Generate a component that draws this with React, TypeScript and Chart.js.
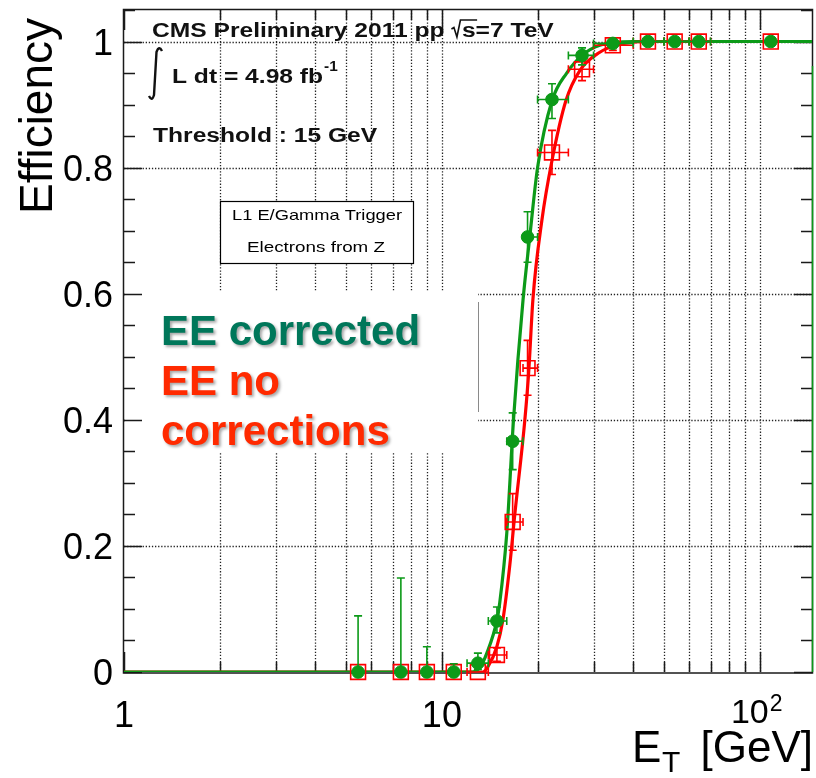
import React, { useEffect, useRef } from "react";
import { Chart, registerables } from "chart.js";
Chart.register(...registerables);

// ---------------- data ----------------
const binCenters = [5.45, 7.43, 8.97, 10.9, 12.98, 14.9, 16.7, 18.6, 22.2, 27.6, 34.5, 44.5, 54.0, 64.3, 108.3];
const binLow = [5.45, 7.43, 8.97, 10.9, 12, 14, 16, 18, 20, 25, 30, 40, 50, 60, 108.3];
const binHigh = [5.45, 7.43, 8.97, 10.9, 14, 16, 18, 20, 25, 30, 40, 50, 60, 70, 108.3];

const effCorrected = [0, 0, 0, 0, 0.014, 0.081, 0.366, 0.69, 0.908, 0.978, 0.997, 1, 1, 1, 1];
const errUpCorrected = [0.089, 0.149, 0.04, 0.013, 0.016, 0.022, 0.045, 0.04, 0.025, 0.012, 0.003, 0, 0, 0, 0];
const errDnCorrected = [0, 0, 0, 0, 0.01, 0.019, 0.045, 0.04, 0.03, 0.015, 0.005, 0, 0, 0, 0];

const effUncorrected = [0, 0, 0, 0, 0, 0.027, 0.238, 0.482, 0.824, 0.956, 0.994, 1, 1, 1, 1];
const errUpUncorrected = [0, 0, 0, 0, 0, 0.011, 0.045, 0.044, 0.035, 0.015, 0.005, 0, 0, 0, 0];
const errDnUncorrected = [0, 0, 0, 0, 0, 0.01, 0.045, 0.043, 0.035, 0.018, 0.008, 0, 0, 0, 0];

// fitted turn-on curves
const fitCorrectedX = [1, 12.5, 13.2, 13.85, 14.9, 15.2, 16.0, 16.8, 18.0, 18.9, 20.0, 22.2, 24.7, 27.6, 31.4, 39.9, 146];
const fitCorrectedY = [0, 0, 0.008, 0.03, 0.082, 0.109, 0.22, 0.4, 0.59, 0.69, 0.8, 0.906, 0.95, 0.978, 0.994, 1, 1];
const fitUncorrectedX = [1, 13.46, 13.95, 14.89, 15.55, 16.36, 16.96, 18.24, 18.78, 19.33, 20.63, 22.18, 24.55, 27.16, 31.4, 35.5, 44.1, 146];
const fitUncorrectedY = [0, 0, 0.008, 0.04, 0.082, 0.17, 0.25, 0.4, 0.48, 0.59, 0.716, 0.81, 0.906, 0.954, 0.983, 0.994, 1, 1];

const xMin = 1;
const xMax = 146;
const yMin = 0;
const yMax = 1.05;
const yTickValues = [0, 0.2, 0.4, 0.6, 0.8, 1];
const yTickLabels = ["0", "0.2", "0.4", "0.6", "0.8", "1"];
const xMajorTicks = [1, 10, 100];

const GREEN = "#0c9a18";
const RED = "#ff0000";
const FONT = "'Liberation Sans', Arial, Helvetica, sans-serif";

function stretchText(ctx: CanvasRenderingContext2D, text: string, x: number, y: number, font: string, sx: number, align: CanvasTextAlign = "left") {
  ctx.save();
  ctx.font = font;
  const w = ctx.measureText(text).width * sx;
  ctx.translate(x, y);
  ctx.scale(sx, 1);
  ctx.textAlign = align;
  ctx.textBaseline = "alphabetic";
  ctx.fillText(text, 0, 0);
  ctx.restore();
  return w;
}

function fitText(ctx: CanvasRenderingContext2D, text: string, cx: number, y: number, font: string, width: number) {
  ctx.save();
  ctx.font = font;
  const w = ctx.measureText(text).width;
  const sx = width / w;
  ctx.translate(cx, y);
  ctx.scale(sx, 1);
  ctx.textAlign = "center";
  ctx.textBaseline = "alphabetic";
  ctx.fillText(text, 0, 0);
  ctx.restore();
}

const rootPlugin = {
  id: "rootStyle",
  beforeDraw(chart: any) {
    const { ctx, chartArea: a, scales } = chart;
    const xs = scales.x;
    const ys = scales.y;
    ctx.save();
    ctx.fillStyle = "#fff";
    ctx.fillRect(0, 0, chart.width, chart.height);

    // dotted grid
    ctx.strokeStyle = "#222";
    ctx.lineWidth = 1.3;
    ctx.setLineDash([1.3, 1.8]);
    for (const d of [1, 10, 100]) {
      for (let m = 1; m <= 9; m++) {
        const v = m * d;
        if (v <= xMin || v >= xMax) continue;
        const px = Math.round(xs.getPixelForValue(v)) + 0.5;
        ctx.beginPath();
        ctx.moveTo(px, a.top);
        ctx.lineTo(px, a.bottom);
        ctx.stroke();
      }
    }
    for (const v of yTickValues) {
      if (v === 0) continue;
      const py = Math.round(ys.getPixelForValue(v)) + 0.5;
      ctx.beginPath();
      ctx.moveTo(a.left, py);
      ctx.lineTo(a.right, py);
      ctx.stroke();
    }
    ctx.setLineDash([]);

    // white overlay box for the annotation text
    ctx.fillStyle = "#fff";
    ctx.fillRect(a.left + 1, 291, 478 - a.left - 1, 161);
    ctx.strokeStyle = "#8a8a8a";
    ctx.lineWidth = 1;
    ctx.beginPath();
    ctx.moveTo(478.5, 302);
    ctx.lineTo(478.5, 412);
    ctx.stroke();

    // trigger box
    ctx.fillStyle = "#fff";
    ctx.fillRect(220, 201, 193, 62);
    ctx.strokeStyle = "#000";
    ctx.lineWidth = 1.2;
    ctx.strokeRect(220.5, 201.5, 193, 62);
    ctx.fillStyle = "#000";
    fitText(ctx, "L1 E/Gamma Trigger", 317, 220, `15px ${FONT}`, 170);
    fitText(ctx, "Electrons from Z", 316, 252, `15px ${FONT}`, 138);
    ctx.restore();
  },
  beforeDatasetsDraw(chart: any) {
    const { ctx, chartArea: a, scales } = chart;
    const xs = scales.x;
    const ys = scales.y;
    ctx.save();
    ctx.strokeStyle = "#1a1a1a";
    ctx.lineWidth = 1.5;
    ctx.strokeRect(a.left - 0.5, a.top - 0.5, a.right - a.left + 1, a.bottom - a.top + 1.5);
    // x ticks (bottom & top)
    for (const d of [1, 10, 100]) {
      for (let m = 1; m <= 9; m++) {
        const v = m * d;
        if (v < xMin || v > xMax) continue;
        const major = m === 1;
        const len = major ? 20 : 10;
        const px = Math.round(xs.getPixelForValue(v)) + 0.5;
        ctx.beginPath();
        ctx.moveTo(px, a.bottom);
        ctx.lineTo(px, a.bottom - len);
        ctx.moveTo(px, a.top);
        ctx.lineTo(px, a.top + len);
        ctx.stroke();
      }
    }
    // y ticks (left & right)
    for (let k = 0; k <= 21; k++) {
      const v = k * 0.05;
      if (v > yMax) continue;
      const major = k % 4 === 0;
      const len = major ? 18 : 11;
      const py = Math.round(ys.getPixelForValue(v)) + 0.5;
      ctx.beginPath();
      ctx.moveTo(a.left, py);
      ctx.lineTo(a.left + len, py);
      ctx.moveTo(a.right, py);
      ctx.lineTo(a.right - len, py);
      ctx.stroke();
    }
    ctx.restore();
  },
  beforeDatasetDraw(chart: any, args: any) {
    const ds = chart.data.datasets[args.index];
    const e = ds.errs;
    if (!e) return;
    const { ctx, scales } = chart;
    const xs = scales.x;
    const ys = scales.y;
    ctx.save();
    ctx.strokeStyle = ds.borderColor;
    ctx.lineWidth = 1.6;
    const cap = 4;
    for (let i = 0; i < e.x.length; i++) {
      const px = xs.getPixelForValue(e.x[i]);
      const py = ys.getPixelForValue(e.y[i]);
      ctx.beginPath();
      if (e.up[i] > 0) {
        const t = ys.getPixelForValue(e.y[i] + e.up[i]);
        ctx.moveTo(px, py);
        ctx.lineTo(px, t);
        ctx.moveTo(px - cap, t);
        ctx.lineTo(px + cap, t);
      }
      if (e.dn[i] > 0) {
        const b = ys.getPixelForValue(e.y[i] - e.dn[i]);
        ctx.moveTo(px, py);
        ctx.lineTo(px, b);
        ctx.moveTo(px - cap, b);
        ctx.lineTo(px + cap, b);
      }
      if (e.lo[i] < e.x[i]) {
        const l = xs.getPixelForValue(e.lo[i]);
        ctx.moveTo(px, py);
        ctx.lineTo(l, py);
        ctx.moveTo(l, py - cap);
        ctx.lineTo(l, py + cap);
      }
      if (e.hi[i] > e.x[i]) {
        const r = xs.getPixelForValue(e.hi[i]);
        ctx.moveTo(px, py);
        ctx.lineTo(r, py);
        ctx.moveTo(r, py - cap);
        ctx.lineTo(r, py + cap);
      }
      ctx.stroke();
    }
    ctx.restore();
  },
  afterDatasetsDraw(chart: any) {
    const { ctx, chartArea: a, scales } = chart;
    const xs = scales.x;
    const ys = scales.y;
    ctx.save();
    ctx.fillStyle = "#000";

    // right edge green line (as in the source image)
    ctx.strokeStyle = GREEN;
    ctx.lineWidth = 1.5;
    ctx.beginPath();
    ctx.moveTo(a.right + 0.5, 66);
    ctx.lineTo(a.right + 0.5, a.bottom);
    ctx.stroke();

    // y tick labels
    ctx.font = `36px ${FONT}`;
    ctx.textAlign = "right";
    ctx.textBaseline = "alphabetic";
    yTickValues.forEach((v, i) => {
      const py = ys.getPixelForValue(v);
      ctx.fillText(yTickLabels[i], 113, py + 13);
    });
    // x tick labels
    ctx.textAlign = "center";
    ctx.fillText("1", xs.getPixelForValue(xMajorTicks[0]), 727);
    ctx.fillText("10", xs.getPixelForValue(xMajorTicks[1]), 727);
    const p100 = xs.getPixelForValue(xMajorTicks[2]);
    ctx.font = `34px ${FONT}`;
    ctx.textAlign = "right";
    ctx.fillText("10", p100 + 9, 723);
    ctx.font = `23px ${FONT}`;
    ctx.textAlign = "left";
    ctx.fillText("2", p100 + 10, 711);

    // axis titles
    ctx.font = `46px ${FONT}`;
    ctx.save();
    ctx.translate(52, 214);
    ctx.rotate(-Math.PI / 2);
    ctx.textAlign = "left";
    ctx.fillText("Efficiency", 0, 0);
    ctx.restore();

    ctx.font = `44px ${FONT}`;
    ctx.textAlign = "left";
    ctx.fillText("E", 632, 762);
    ctx.font = `30px ${FONT}`;
    ctx.fillText("T", 662, 772);
    ctx.font = `44px ${FONT}`;
    ctx.textAlign = "right";
    ctx.fillText("[GeV]", 813, 762);

    // header texts (ROOT style, wide Helvetica bold)
    const bf = `bold 20px ${FONT}`;
    const sx = 1.23;
    ctx.fillStyle = "#111";
    let w = stretchText(ctx, "CMS Preliminary 2011 pp ", 152, 37, bf, sx);
    let x = 152 + w;
    ctx.save();
    ctx.font = bf;
    const sw = ctx.measureText("s").width * sx;
    ctx.restore();
    ctx.strokeStyle = "#111";
    ctx.lineWidth = 1.6;
    ctx.beginPath();
    ctx.moveTo(x, 29);
    ctx.lineTo(x + 2.5, 27.5);
    ctx.lineTo(x + 5.5, 37);
    ctx.lineTo(x + 9, 20);
    ctx.lineTo(x + 10 + sw + 2, 20);
    ctx.stroke();
    stretchText(ctx, "s=7 TeV", x + 10.5, 37, bf, sx);

    // integral sign
    ctx.lineWidth = 2.4;
    ctx.beginPath();
    ctx.moveTo(162, 51);
    ctx.quadraticCurveTo(159, 45, 156.5, 52);
    ctx.lineTo(154, 95);
    ctx.quadraticCurveTo(152, 102, 149, 96);
    ctx.stroke();
    w = stretchText(ctx, "L dt = 4.98 fb", 172, 83, bf, sx);
    stretchText(ctx, "-1", 172 + w + 1, 71, `bold 14px ${FONT}`, 1.1);

    stretchText(ctx, "Threshold : 15 GeV", 153, 142, bf, sx);

    // big coloured annotation
    ctx.shadowColor = "rgba(0,0,0,0.35)";
    ctx.shadowOffsetX = 2;
    ctx.shadowOffsetY = 2;
    ctx.shadowBlur = 3;
    ctx.font = `bold 42px ${FONT}`;
    ctx.textAlign = "left";
    ctx.fillStyle = "#00775a";
    ctx.fillText("EE corrected", 161, 345);
    ctx.fillStyle = "#ff2a00";
    ctx.fillText("EE no", 161, 395);
    ctx.fillText("corrections", 161, 445);
    ctx.restore();
  },
};

export default function App() {
  const ref = useRef<HTMLCanvasElement>(null);
  useEffect(() => {
    document.body.style.margin = "0";
    const canvas = ref.current!;
    const chart = new Chart(canvas, {
      type: "scatter",
      data: {
        datasets: [
          {
            label: "EE corrected",
            data: binCenters.map((x, i) => ({ x, y: effCorrected[i] })),
            pointStyle: "circle",
            pointRadius: 6.3,
            backgroundColor: GREEN,
            borderColor: GREEN,
            borderWidth: 1,
            showLine: false,
            clip: false,
            order: 0,
            errs: { x: binCenters, y: effCorrected, up: errUpCorrected, dn: errDnCorrected, lo: binLow, hi: binHigh },
          } as any,
          {
            label: "EE no corrections",
            data: binCenters.map((x, i) => ({ x, y: effUncorrected[i] })),
            pointStyle: "rect",
            pointRadius: 10.5,
            backgroundColor: "rgba(0,0,0,0)",
            borderColor: RED,
            borderWidth: 1.6,
            showLine: false,
            clip: false,
            order: 1,
            errs: { x: binCenters, y: effUncorrected, up: errUpUncorrected, dn: errDnUncorrected, lo: binLow, hi: binHigh },
          } as any,
          {
            label: "fit corrected",
            data: fitCorrectedX.map((x, i) => ({ x, y: fitCorrectedY[i] })),
            showLine: true,
            pointRadius: 0,
            borderColor: GREEN,
            borderWidth: 3.2,
            cubicInterpolationMode: "monotone",
            clip: 0,
            order: 2,
          } as any,
          {
            label: "fit uncorrected",
            data: fitUncorrectedX.map((x, i) => ({ x, y: fitUncorrectedY[i] })),
            showLine: true,
            pointRadius: 0,
            borderColor: RED,
            borderWidth: 3.2,
            cubicInterpolationMode: "monotone",
            clip: 0,
            order: 3,
          } as any,
        ],
      },
      options: {
        responsive: false,
        animation: false,
        devicePixelRatio: 1,
        layout: { autoPadding: false, padding: { left: 124, right: 4, top: 10, bottom: 106 } },
        plugins: { legend: { display: false }, tooltip: { enabled: false } },
        events: [],
        scales: {
          x: { type: "logarithmic", min: xMin, max: xMax, display: false },
          y: { type: "linear", min: yMin, max: yMax, display: false },
        },
      },
      plugins: [rootPlugin],
    });
    return () => chart.destroy();
  }, []);
  return (
    <div style={{ width: 816, height: 778, position: "relative" }}>
      <canvas ref={ref} width={816} height={778} style={{ display: "block", width: 816, height: 778 }} />
    </div>
  );
}
